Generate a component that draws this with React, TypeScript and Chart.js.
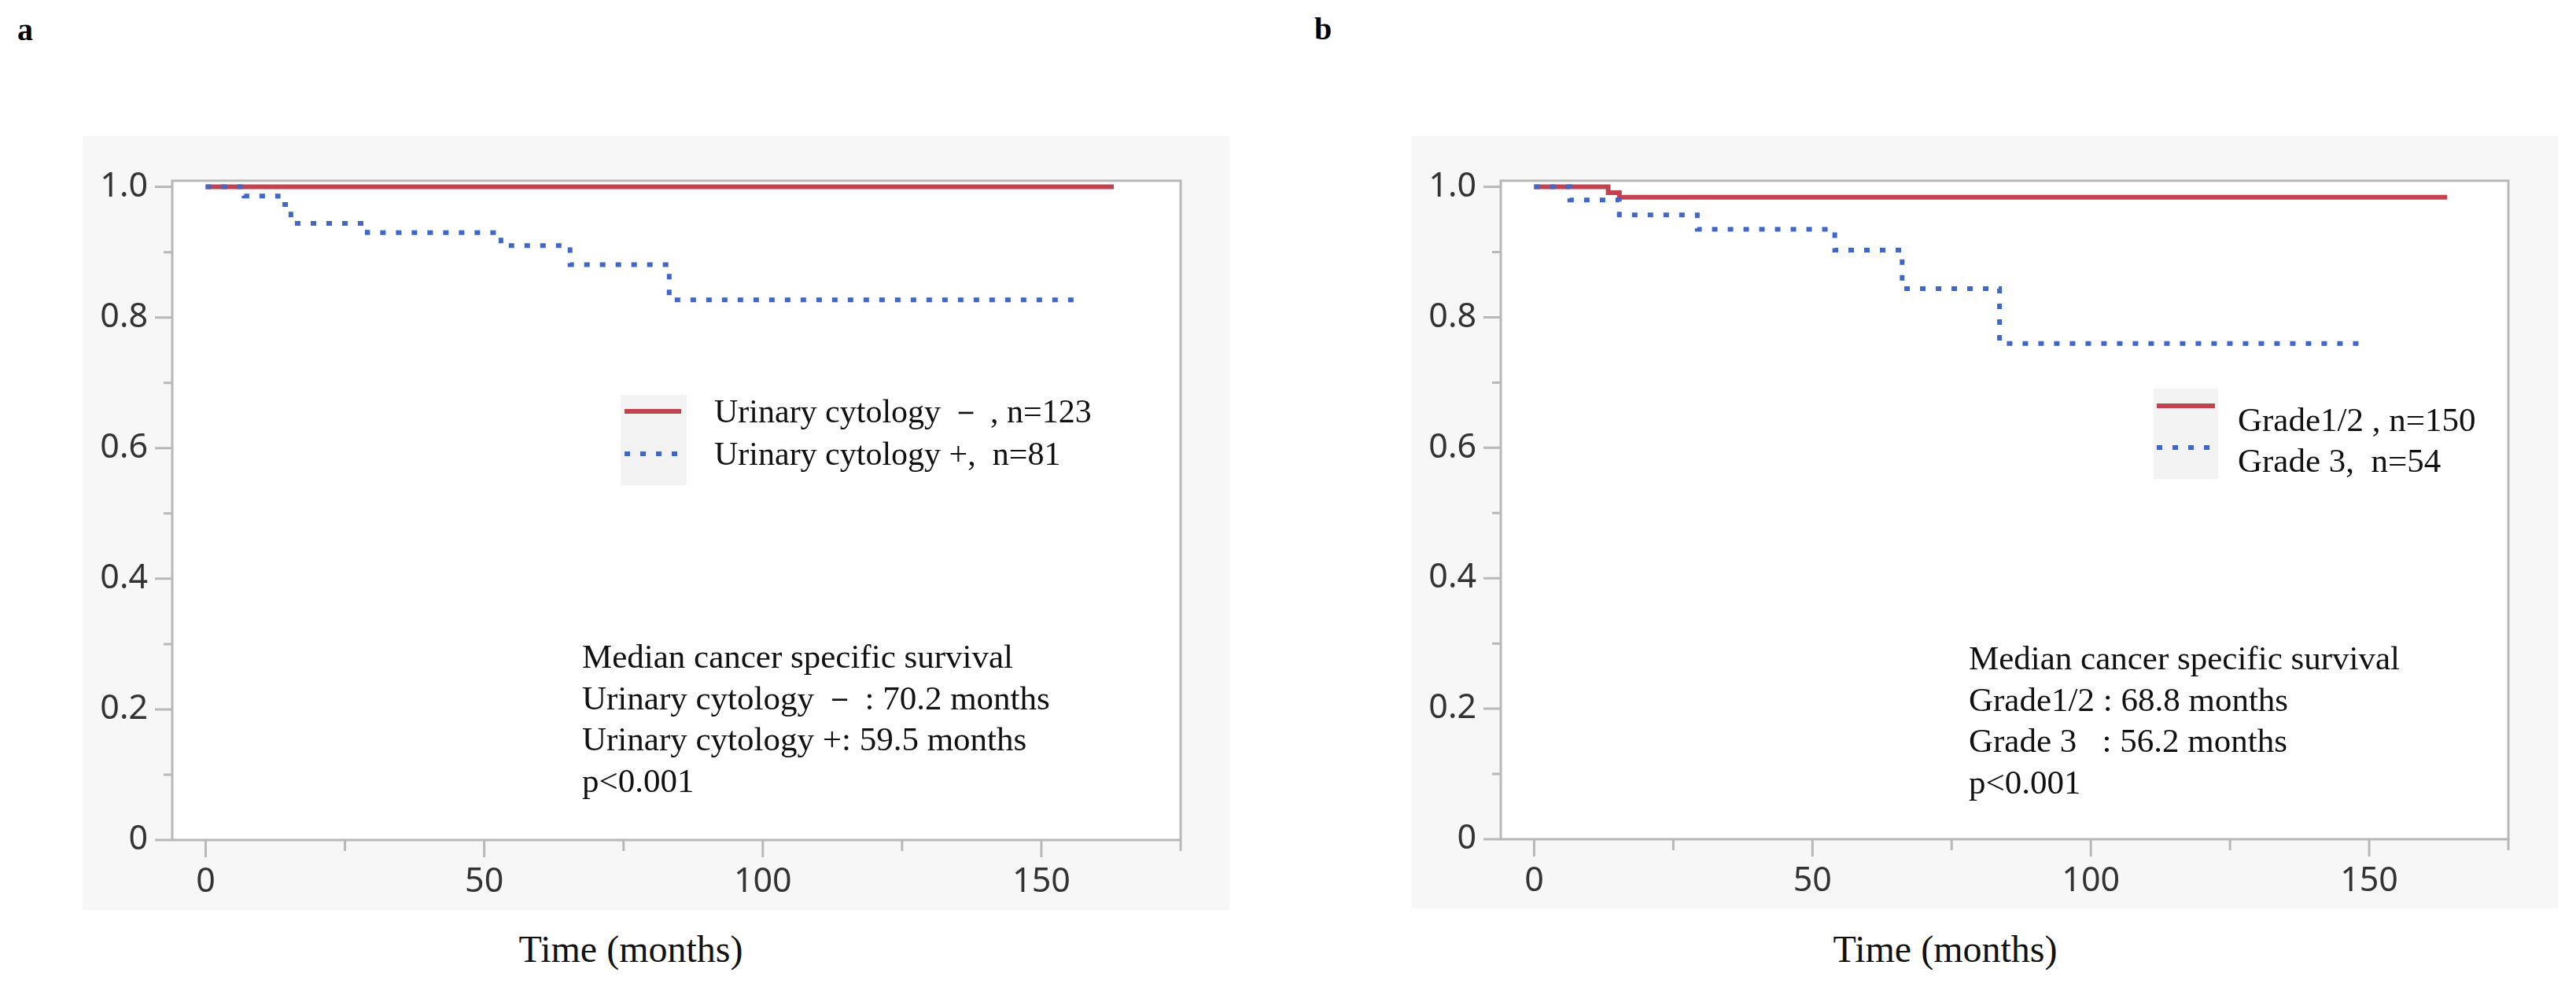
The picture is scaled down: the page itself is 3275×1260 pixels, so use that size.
import { useEffect, useRef } from 'react'
import { Chart, registerables } from 'chart.js'

Chart.register(...registerables)

// panel a: urinary cytology
const aNegTimes = [0, 163]
const aNegSurv = [1, 1]
const aPosTimes = [0, 6.9, 13, 15.3, 29, 53, 65.4, 83.2, 156.4]
const aPosSurv = [1, 0.986, 0.973, 0.944, 0.93, 0.91, 0.881, 0.827, 0.827]

// panel b: tumour grade
const bLowTimes = [0, 13.3, 15.3, 164]
const bLowSurv = [1, 0.991, 0.984, 0.984]
const bHighTimes = [0, 6.4, 15.3, 29.3, 54, 66.1, 83.6, 148.6]
const bHighSurv = [1, 0.98, 0.957, 0.935, 0.903, 0.844, 0.76, 0.76]

const xTickValues = [0, 25, 50, 75, 100, 125, 150, 175]
const yTickValues = [0, 0.1, 0.2, 0.3, 0.4, 0.5, 0.6, 0.7, 0.8, 0.9, 1.0]

const aLegend = ['Urinary cytology － , n=123', 'Urinary cytology +,  n=81']
const aNotes = [
  'Median cancer specific survival',
  'Urinary cytology － : 70.2 months',
  'Urinary cytology +: 59.5 months',
  'p<0.001',
]
const bLegend = ['Grade1/2 , n=150', 'Grade 3,  n=54']
const bNotes = [
  'Median cancer specific survival',
  'Grade1/2 : 68.8 months',
  'Grade 3   : 56.2 months',
  'p<0.001',
]

const RED = '#c1434f'
const BLUE = '#3f66c9'
const AXIS = '#b8b8b8'
const SERIF = "'Liberation Serif', 'Times New Roman', serif"

const isMajorX = (v: number) => v % 50 === 0
const isMajorY = (v: number) => Math.round(v * 10) % 2 === 0

const frameTicks = {
  id: 'frameTicks',
  beforeDatasetsDraw(chart: any) {
    const { ctx, chartArea: a, scales } = chart
    ctx.save()
    ctx.fillStyle = '#ffffff'
    ctx.fillRect(a.left, a.top, a.width, a.height)
    ctx.strokeStyle = AXIS
    ctx.lineWidth = 3
    ctx.strokeRect(a.left, a.top, a.width, a.height)
    ctx.beginPath()
    scales.x.ticks.forEach((t: any) => {
      const px = scales.x.getPixelForValue(t.value)
      ctx.moveTo(px, a.bottom)
      ctx.lineTo(px, a.bottom + (isMajorX(t.value) ? 22 : 14))
    })
    scales.y.ticks.forEach((t: any) => {
      const py = scales.y.getPixelForValue(t.value)
      ctx.moveTo(a.left, py)
      ctx.lineTo(a.left - (isMajorY(t.value) ? 22 : 11), py)
    })
    ctx.stroke()
    ctx.restore()
  },
}

type Swatch = { box: number[]; x0: number; x1: number; rows: number[] }

function swatchPlugin(s: Swatch) {
  return {
    id: 'swatches',
    afterDatasetsDraw(chart: any) {
      const { ctx } = chart
      ctx.save()
      ctx.fillStyle = '#f3f3f3'
      ctx.fillRect(s.box[0], s.box[1], s.box[2], s.box[3])
      chart.data.datasets.forEach((ds: any, i: number) => {
        ctx.strokeStyle = ds.borderColor
        ctx.lineWidth = ds.borderWidth
        ctx.setLineDash(ds.borderDash || [])
        ctx.beginPath()
        ctx.moveTo(s.x0, s.rows[i])
        ctx.lineTo(s.x1, s.rows[i])
        ctx.stroke()
      })
      ctx.restore()
    },
  }
}

type PanelProps = {
  left: number
  top: number
  width: number
  height: number
  yWidth: number
  xHeight: number
  padRight: number
  series: { times: number[]; surv: number[]; label: string }[]
  swatch: Swatch
}

function KMPanel(p: PanelProps) {
  const canvasRef = useRef<HTMLCanvasElement>(null)
  const chartInstance = useRef<Chart | null>(null)

  useEffect(() => {
    if (!canvasRef.current) return
    if (chartInstance.current) chartInstance.current.destroy()

    // blue dotted curve sits on top of the red one
    const styles = [
      { borderColor: RED, borderWidth: 6, borderDash: [] as number[], order: 1 },
      { borderColor: BLUE, borderWidth: 6, borderDash: [7, 13], order: 0 },
    ]

    chartInstance.current = new Chart(canvasRef.current, {
      type: 'line',
      data: {
        datasets: p.series.map((s, i) => ({
          label: s.label,
          data: s.times.map((t, j) => ({ x: t, y: s.surv[j] })),
          stepped: 'before' as const,
          pointRadius: 0,
          borderCapStyle: 'butt' as const,
          fill: false,
          ...styles[i],
        })),
      },
      options: {
        responsive: false,
        animation: false,
        layout: { padding: { top: 32, right: p.padRight, left: 0, bottom: 0 } },
        plugins: {
          legend: { display: false },
          tooltip: { enabled: false },
        },
        scales: {
          x: {
            type: 'linear',
            min: -6,
            max: 175,
            grid: { display: false, drawTicks: false },
            border: { display: false },
            afterBuildTicks: (s: any) => {
              s.ticks = xTickValues.map((value) => ({ value }))
            },
            afterFit: (s: any) => {
              s.height = p.xHeight
            },
            ticks: {
              autoSkip: false,
              maxRotation: 0,
              padding: 28,
              color: '#333',
              font: { family: "'Noto Sans', sans-serif", size: 43 },
              callback: (v: any) => (isMajorX(v) ? String(v) : ''),
            },
          },
          y: {
            type: 'linear',
            min: 0,
            max: 1.0094,
            grid: { display: false, drawTicks: false },
            border: { display: false },
            afterBuildTicks: (s: any) => {
              s.ticks = yTickValues.map((value) => ({ value }))
            },
            afterFit: (s: any) => {
              s.width = p.yWidth
            },
            ticks: {
              autoSkip: false,
              padding: 31,
              color: '#333',
              font: { family: "'Noto Sans', sans-serif", size: 43 },
              callback: (v: any) => (v === 0 ? '0' : isMajorY(v) ? Number(v).toFixed(1) : ''),
            },
          },
        },
      },
      plugins: [frameTicks, swatchPlugin(p.swatch)],
    })

    return () => {
      if (chartInstance.current) {
        chartInstance.current.destroy()
        chartInstance.current = null
      }
    }
  }, [])

  return (
    <div
      style={{
        position: 'absolute',
        left: p.left,
        top: p.top,
        width: p.width,
        height: p.height,
        background: '#f7f7f7',
      }}
    >
      <canvas ref={canvasRef} width={p.width} height={p.height} />
    </div>
  )
}

function TextBlock(props: {
  left: number
  top: number
  lines: string[]
  lineHeight: number
  size?: number
}) {
  return (
    <div
      style={{
        position: 'absolute',
        left: props.left,
        top: props.top,
        fontFamily: SERIF,
        fontSize: props.size || 42,
        lineHeight: props.lineHeight + 'px',
        whiteSpace: 'pre',
        color: '#111',
      }}
    >
      {props.lines.map((l, i) => (
        <div key={i}>{l}</div>
      ))}
    </div>
  )
}

function AxisTitle({ cx, cy }: { cx: number; cy: number }) {
  return (
    <div
      style={{
        position: 'absolute',
        left: cx - 300,
        top: cy - 30,
        width: 600,
        lineHeight: '60px',
        textAlign: 'center',
        fontFamily: SERIF,
        fontSize: 48,
        color: '#111',
      }}
    >
      Time (months)
    </div>
  )
}

function PanelLetter({ x, top, ch }: { x: number; top: number; ch: string }) {
  return (
    <div
      style={{
        position: 'absolute',
        left: x,
        top,
        fontFamily: SERIF,
        fontWeight: 'bold',
        fontSize: 40,
        lineHeight: '40px',
        color: '#000',
      }}
    >
      {ch}
    </div>
  )
}

export default function App() {
  return (
    <div
      style={{
        position: 'fixed',
        left: 0,
        top: 0,
        width: 3275,
        height: 1260,
        background: '#fff',
        overflow: 'hidden',
      }}
    >
      <PanelLetter x={22} top={18} ch="a" />
      <PanelLetter x={1671} top={17} ch="b" />

      <KMPanel
        left={105}
        top={173}
        width={1458}
        height={984}
        yWidth={114}
        xHeight={89}
        padRight={62}
        series={[
          { times: aNegTimes, surv: aNegSurv, label: aLegend[0] },
          { times: aPosTimes, surv: aPosSurv, label: aLegend[1] },
        ]}
        swatch={{ box: [684, 329, 84, 115], x0: 689, x1: 761, rows: [350, 404] }}
      />
      <TextBlock left={908} top={496} lines={aLegend} lineHeight={54} />
      <TextBlock left={740} top={809} lines={aNotes} lineHeight={52.5} size={43} />
      <AxisTitle cx={802} cy={1207} />

      <KMPanel
        left={1795}
        top={173}
        width={1457}
        height={982}
        yWidth={113}
        xHeight={88}
        padRight={63}
        series={[
          { times: bLowTimes, surv: bLowSurv, label: bLegend[0] },
          { times: bHighTimes, surv: bHighSurv, label: bLegend[1] },
        ]}
        swatch={{ box: [943, 321, 82, 115], x0: 947, x1: 1021, rows: [343, 396] }}
      />
      <TextBlock left={2845} top={508} lines={bLegend} lineHeight={52} size={43} />
      <TextBlock left={2503} top={811} lines={bNotes} lineHeight={52.5} size={43} />
      <AxisTitle cx={2473} cy={1207} />
    </div>
  )
}
